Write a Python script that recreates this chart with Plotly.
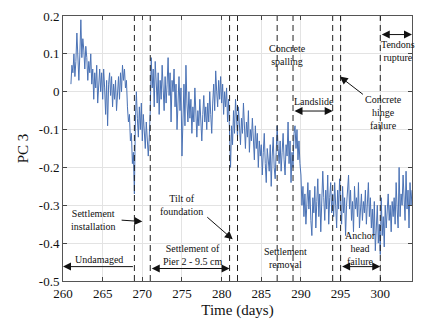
import plotly.graph_objects as go

# PC3 values, 8 samples per day from day 261 to 304
pc3_by_day = [
    [0.02, 0.07, 0.05, 0.10, 0.04, 0.08, 0.155, 0.06],      # 261
    [0.03, 0.10, 0.19, 0.09, 0.14, 0.11, 0.06, 0.12],       # 262
    [0.09, 0.03, 0.08, 0.05, 0.10, 0.02, 0.06, -0.02],      # 263
    [0.05, 0.01, 0.07, -0.03, 0.04, 0.06, 0.00, 0.05],      # 264
    [-0.02, 0.06, 0.01, -0.06, 0.03, -0.09, 0.02, 0.05],    # 265
    [-0.01, 0.04, -0.04, 0.02, -0.02, 0.03, -0.05, 0.01],   # 266
    [0.04, -0.02, 0.05, 0.00, 0.07, 0.03, 0.06, 0.01],      # 267
    [0.03, -0.04, -0.08, -0.06, -0.13, -0.11, -0.19, -0.16],  # 268
    [-0.27, -0.08, 0.00, -0.07, -0.12, -0.04, -0.10, -0.03],  # 269
    [-0.13, -0.06, -0.11, -0.15, -0.08, -0.14, -0.17, -0.12], # 270
    [-0.05, 0.09, 0.01, 0.06, -0.04, 0.08, 0.02, -0.03],    # 271
    [0.05, -0.06, 0.03, -0.02, 0.07, 0.00, -0.05, 0.04],    # 272
    [-0.03, 0.02, 0.09, -0.01, 0.05, -0.08, 0.03, 0.00],    # 273
    [0.06, -0.04, 0.02, -0.10, -0.02, 0.04, -0.05, 0.01],   # 274
    [-0.17, -0.06, 0.02, -0.09, 0.07, -0.03, -0.08, 0.00],  # 275
    [-0.07, -0.02, -0.11, -0.04, -0.08, 0.01, -0.06, -0.12],  # 276
    [-0.05, -0.09, -0.02, -0.07, -0.13, -0.06, -0.01, -0.08],  # 277
    [-0.04, -0.10, -0.03, -0.08, 0.00, -0.06, -0.11, -0.03],  # 278
    [0.02, -0.05, 0.055, 0.00, -0.04, 0.03, -0.02, 0.04],   # 279
    [-0.03, 0.02, -0.06, 0.00, -0.04, 0.01, -0.08, -0.02],  # 280
    [-0.10, -0.20, -0.09, -0.14, -0.05, -0.11, -0.02, -0.08],  # 281
    [-0.12, -0.04, -0.09, -0.14, -0.07, -0.11, -0.03, -0.10],  # 282
    [-0.15, -0.08, -0.12, -0.05, -0.16, -0.10, -0.13, -0.07],  # 283
    [-0.12, -0.18, -0.09, -0.15, -0.11, -0.20, -0.13, -0.17],  # 284
    [-0.14, -0.22, -0.16, -0.11, -0.19, -0.24, -0.15, -0.18],  # 285
    [-0.21, -0.14, -0.25, -0.17, -0.12, -0.20, -0.23, -0.16],  # 286
    [-0.09, -0.15, -0.19, -0.13, -0.21, -0.16, -0.11, -0.18],  # 287
    [-0.22, -0.14, -0.17, -0.08, -0.19, -0.13, -0.24, -0.16],  # 288
    [-0.20, -0.11, -0.09, -0.15, -0.10, -0.18, -0.13, -0.19],  # 289
    [-0.22, -0.30, -0.25, -0.33, -0.27, -0.35, -0.29, -0.24],  # 290
    [-0.31, -0.26, -0.34, -0.38, -0.28, -0.32, -0.25, -0.36],  # 291
    [-0.29, -0.23, -0.33, -0.27, -0.37, -0.30, -0.21, -0.28],  # 292
    [-0.34, -0.26, -0.31, -0.22, -0.35, -0.28, -0.24, -0.32],  # 293
    [-0.27, -0.33, -0.24, -0.30, -0.36, -0.26, -0.31, -0.23],  # 294
    [-0.29, -0.35, -0.25, -0.32, -0.28, -0.38, -0.30, -0.27],  # 295
    [-0.22, -0.31, -0.26, -0.34, -0.29, -0.37, -0.25, -0.31],  # 296
    [-0.28, -0.33, -0.24, -0.36, -0.30, -0.27, -0.34, -0.29],  # 297
    [-0.32, -0.26, -0.35, -0.30, -0.24, -0.33, -0.28, -0.36],  # 298
    [-0.31, -0.38, -0.29, -0.42, -0.34, -0.30, -0.40, -0.35],  # 299
    [-0.43, -0.28, -0.38, -0.33, -0.41, -0.30, -0.36, -0.32],  # 300
    [-0.27, -0.34, -0.30, -0.37, -0.29, -0.33, -0.28, -0.35],  # 301
    [-0.24, -0.31, -0.36, -0.20, -0.33, -0.27, -0.30, -0.22],  # 302
    [-0.29, -0.34, -0.21, -0.31, -0.26, -0.36, -0.24, -0.30],  # 303
]
last_value = -0.26
start_day = 261
samples_per_day = 8

event_days = [269, 271, 281, 282, 287, 289, 294, 295, 300]
x_ticks = [260, 265, 270, 275, 280, 285, 290, 295, 300]
y_ticks = [-0.5, -0.4, -0.3, -0.2, -0.1, 0, 0.1, 0.2]
y_tick_text = ["-0.5", "-0.4", "-0.3", "-0.2", "-0.1", "0", "0.1", "0.2"]

days, pc3 = [], []
for i, block in enumerate(pc3_by_day):
    for j, v in enumerate(block):
        days.append(start_day + i + j / samples_per_day)
        pc3.append(v)
days.append(start_day + len(pc3_by_day))
pc3.append(last_value)

SERIF = "Liberation Serif"

fig = go.Figure()
fig.add_trace(go.Scatter(x=days, y=pc3, mode="lines",
                         line=dict(color="#4a72b5", width=1), showlegend=False))

for d in event_days:
    fig.add_shape(type="line", xref="x", yref="paper", x0=d, x1=d, y0=0, y1=1,
                  line=dict(color="#222222", width=1, dash="6px,4px"))

# text labels: (text, x, y)
labels = [
    ("Undamaged", 264.5, -0.443),
    ("Settlement<br>installation", 263.8, -0.34),
    ("Tilt of<br>foundation", 275.0, -0.30),
    ("Settlement of<br>Pier 2 - 9.5 cm", 276.3, -0.432),
    ("Settlement<br>removal", 288.0, -0.44),
    ("Anchor<br>head<br>failure", 297.5, -0.413),
    ("Concrete<br>spalling", 288.3, 0.098),
    ("Landslide", 291.6, -0.027),
    ("Concrete<br>hinge<br>failure", 300.4, -0.055),
    ("Tendons<br>rupture", 302.2, 0.107),
]
for t, x, y in labels:
    fig.add_annotation(x=x, y=y, text=t, showarrow=False,
                       font=dict(family=SERIF, size=10, color="#111111"))

# single arrows: (head_x, head_y, tail_x, tail_y)
arrows = [
    (270.0, -0.343, 267.2, -0.339),
    (281.4, -0.39, 278.0, -0.328),
    (294.9, 0.04, 298.0, -0.01),
]
for hx, hy, tx, ty in arrows:
    fig.add_annotation(x=hx, y=hy, ax=tx, ay=ty, axref="x", ayref="y",
                       text="", showarrow=True, arrowhead=2, arrowsize=1.6,
                       arrowwidth=1, arrowcolor="#111111")

# double / range arrows: (x_start, x_end, y, sides)
ranges = [
    (269.0, 260.0, -0.462, "end"),
    (271.0, 281.0, -0.467, "end+start"),
    (289.0, 294.0, -0.051, "end+start"),
    (295.0, 300.0, -0.462, "end+start"),
    (300.0, 304.0, 0.151, "end+start"),
]
for x0, x1, y, side in ranges:
    fig.add_annotation(x=x1, y=y, ax=x0, ay=y, axref="x", ayref="y",
                       text="", showarrow=True, arrowhead=2, arrowsize=1.6,
                       arrowwidth=1, arrowcolor="#111111", arrowside=side)

fig.update_layout(
    width=427, height=324,
    margin=dict(l=63, r=15, t=9, b=40),
    paper_bgcolor="white", plot_bgcolor="white",
    font=dict(family=SERIF, color="#111111"),
    xaxis=dict(range=[260, 304], tickvals=x_ticks, ticks="inside", ticklen=4,
               showgrid=True, gridcolor="#e3e3e3", gridwidth=1,
               showline=True, linecolor="#555555", linewidth=1, mirror="ticks",
               tickfont=dict(family=SERIF, size=13, color="#111111"),
               title=dict(text="Time (days)", font=dict(family=SERIF, size=15), standoff=4),
               zeroline=False),
    yaxis=dict(range=[-0.5, 0.2], tickvals=y_ticks, ticktext=y_tick_text,
               ticks="inside", ticklen=4,
               showgrid=True, gridcolor="#e3e3e3", gridwidth=1,
               showline=True, linecolor="#555555", linewidth=1, mirror="ticks",
               tickfont=dict(family=SERIF, size=13, color="#111111"),
               title=dict(text="PC 3", font=dict(family=SERIF, size=15), standoff=6),
               zeroline=False),
)

fig.write_html("out.html")
